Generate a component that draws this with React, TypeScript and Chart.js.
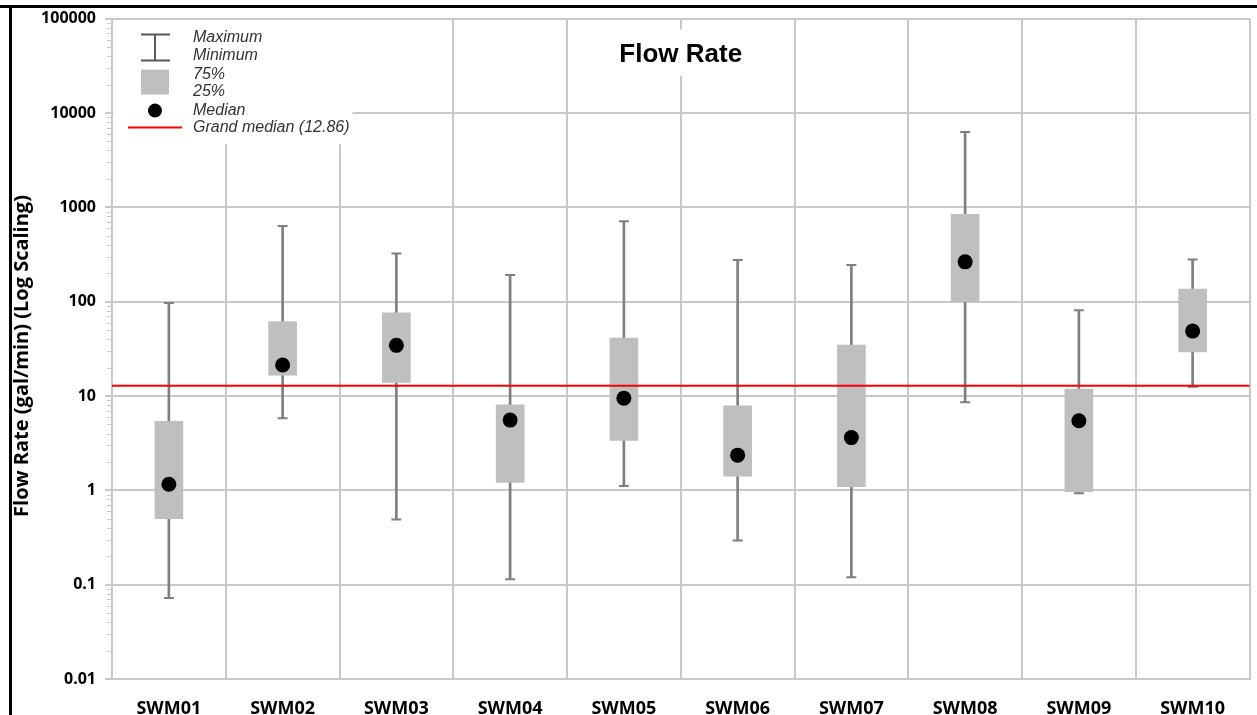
import React, { useEffect, useRef } from 'react';
import { Chart, registerables } from 'chart.js';

Chart.register(...registerables);

const CATEGORIES = ['SWM01', 'SWM02', 'SWM03', 'SWM04', 'SWM05', 'SWM06', 'SWM07', 'SWM08', 'SWM09', 'SWM10'];
const MAXIMUM = [97, 634, 324, 191, 710, 277, 244, 6270, 81, 280];
const Q3 = [5.4, 61.5, 76, 8.07, 41.1, 7.88, 34.7, 841, 11.8, 136];
const MEDIAN = [1.16, 21.3, 34.4, 5.55, 9.48, 2.36, 3.62, 264, 5.47, 48.7];
const Q1 = [0.5, 16.6, 13.9, 1.21, 3.37, 1.41, 1.09, 100, 0.967, 29.3];
const MINIMUM = [0.072, 5.8, 0.49, 0.114, 1.11, 0.294, 0.12, 8.6, 0.93, 12.5];
const GRAND_MEDIAN = 12.86;
const Y_TICKS = [0.01, 0.1, 1, 10, 100, 1000, 10000, 100000];
const Y_TICK_LABELS = ['0.01', '0.1', '1', '10', '100', '1000', '10000', '100000'];
const MINOR_MULTIPLIERS = [2, 3, 4, 5, 6, 7, 8, 9];
const TITLE = 'Flow Rate';
const Y_TITLE = 'Flow Rate (gal/min) (Log Scaling)';
const LEGEND_LABELS = ['Maximum', 'Minimum', '75%', '25%', 'Median', `Grand median (${GRAND_MEDIAN})`];

const GRID = '#c8c8c8';
const WHISKER = '#7f7f7f';
const BOX = '#bfbfbf';
const LABEL_FONT = '"Open Sans", "DejaVu Sans", sans-serif';

const overlayPlugin = {
  id: 'overlay',
  beforeDatasetsDraw(chart: any) {
    const { ctx, chartArea: a, scales } = chart;
    const y = scales.y;
    ctx.save();
    // minor ticks on the y axis
    ctx.strokeStyle = GRID;
    ctx.lineWidth = 1;
    for (let d = -2; d < 5; d++) {
      for (const m of MINOR_MULTIPLIERS) {
        const py = Math.round(y.getPixelForValue(m * Math.pow(10, d))) + 0.5;
        ctx.beginPath();
        ctx.moveTo(a.left - 5, py);
        ctx.lineTo(a.left, py);
        ctx.stroke();
      }
    }
    // white legend box
    ctx.fillStyle = '#fff';
    ctx.fillRect(a.left + 1.5, a.top + 1.5, 239, 124);
    // title box
    ctx.font = `bold 26px "Liberation Sans", Arial, sans-serif`;
    const cx = (a.left + a.right) / 2;
    const tw = ctx.measureText(TITLE).width;
    ctx.fillRect(cx - tw / 2 - 8, a.top + 11, tw + 16, 46);
    ctx.fillStyle = '#000';
    ctx.textAlign = 'center';
    ctx.textBaseline = 'middle';
    ctx.fillText(TITLE, cx, a.top + 36);

    // y-axis title
    ctx.save();
    ctx.translate(22, 356);
    ctx.rotate(-Math.PI / 2);
    ctx.font = `bold 20px ${LABEL_FONT}`;
    ctx.fillStyle = '#000';
    ctx.textAlign = 'center';
    ctx.textBaseline = 'middle';
    ctx.fillText(Y_TITLE, 0, 0);
    ctx.restore();

    // legend symbols
    const lx = a.left;
    const ly = a.top;
    ctx.strokeStyle = '#595959';
    ctx.lineWidth = 2;
    ctx.beginPath();
    ctx.moveTo(lx + 43, ly + 16);
    ctx.lineTo(lx + 43, ly + 42);
    ctx.moveTo(lx + 29, ly + 16);
    ctx.lineTo(lx + 58, ly + 16);
    ctx.moveTo(lx + 29, ly + 42);
    ctx.lineTo(lx + 58, ly + 42);
    ctx.stroke();
    ctx.fillStyle = BOX;
    ctx.fillRect(lx + 29, ly + 51, 28, 25);
    ctx.fillStyle = '#000';
    ctx.beginPath();
    ctx.arc(lx + 43, ly + 92, 7, 0, Math.PI * 2);
    ctx.fill();
    ctx.strokeStyle = '#ff0000';
    ctx.beginPath();
    ctx.moveTo(lx + 16, ly + 109);
    ctx.lineTo(lx + 70, ly + 109);
    ctx.stroke();
    ctx.fillStyle = '#333';
    ctx.textAlign = 'left';
    ctx.font = `italic 16px "Liberation Sans", Arial, sans-serif`;
    const rows = [19, 37, 56, 73, 92, 109];
    LEGEND_LABELS.forEach((t, i) => ctx.fillText(t, lx + 81, ly + rows[i]));
    ctx.restore();
  },
  afterDatasetsDraw(chart: any) {
    const { ctx, chartArea: a, scales } = chart;
    const py = scales.y.getPixelForValue(GRAND_MEDIAN);
    ctx.save();
    ctx.strokeStyle = '#ff0000';
    ctx.lineWidth = 2;
    ctx.beginPath();
    ctx.moveTo(a.left, py);
    ctx.lineTo(a.right, py);
    ctx.stroke();
    ctx.restore();
  },
};

export default function App() {
  const ref = useRef<HTMLCanvasElement>(null);
  useEffect(() => {
    document.body.style.margin = '0';
    const chart = new Chart(ref.current as HTMLCanvasElement, {
      type: 'bar',
      data: {
        labels: CATEGORIES,
        datasets: [
          {
            type: 'bar',
            label: 'Range',
            data: CATEGORIES.map((_, i) => [MINIMUM[i], MAXIMUM[i]]) as any,
            backgroundColor: WHISKER,
            barThickness: 2,
            grouped: false,
            order: 5,
          } as any,
          {
            type: 'line',
            label: 'Maximum',
            data: MAXIMUM,
            showLine: false,
            pointStyle: 'line',
            pointRadius: 5,
            borderColor: WHISKER,
            pointBorderColor: WHISKER,
            pointBorderWidth: 2,
            order: 4,
          } as any,
          {
            type: 'line',
            label: 'Minimum',
            data: MINIMUM,
            showLine: false,
            pointStyle: 'line',
            pointRadius: 5,
            borderColor: WHISKER,
            pointBorderColor: WHISKER,
            pointBorderWidth: 2,
            order: 4,
          } as any,
          {
            type: 'bar',
            label: 'IQR',
            data: CATEGORIES.map((_, i) => [Q1[i], Q3[i]]) as any,
            backgroundColor: BOX,
            barThickness: 28,
            grouped: false,
            order: 3,
          } as any,
          {
            type: 'line',
            label: 'Median',
            data: MEDIAN,
            showLine: false,
            pointStyle: 'circle',
            pointRadius: 7.5,
            backgroundColor: '#000',
            borderColor: '#000',
            pointBackgroundColor: '#000',
            pointBorderWidth: 0,
            order: 1,
          } as any,
        ],
      },
      options: {
        responsive: false,
        animation: false,
        devicePixelRatio: 1,
        layout: { padding: { top: 16, right: 3, left: 0, bottom: 0 } },
        plugins: { legend: { display: false }, tooltip: { enabled: false }, title: { display: false } },
        scales: {
          x: {
            offset: true,
            grid: { offset: true, color: GRID, lineWidth: 2, drawTicks: false },
            border: { color: GRID, width: 2 },
            ticks: { padding: 19, color: '#000', font: { family: LABEL_FONT, weight: 'bold', size: 18 } },
            afterFit: (s: any) => { s.height = 36; },
          },
          y: {
            type: 'logarithmic',
            min: 0.01,
            max: 100000,
            afterBuildTicks: (s: any) => { s.ticks = Y_TICKS.map((v) => ({ value: v, major: true })); },
            ticks: {
              padding: 9,
              color: '#000',
              font: { family: LABEL_FONT, weight: 'bold', size: 16 },
              callback: (v: any) => {
                const i = Y_TICKS.indexOf(Number(v));
                return i >= 0 ? Y_TICK_LABELS[i] : '';
              },
            },
            grid: { color: GRID, lineWidth: 2, tickLength: 7 },
            border: { color: GRID, width: 2 },
            afterFit: (s: any) => { s.width = 112; },
          } as any,
        },
      },
      plugins: [overlayPlugin],
    });
    return () => chart.destroy();
  }, []);

  return (
    <div style={{ position: 'relative', width: 1257, height: 715, background: '#fff', overflow: 'hidden' }}>
      <canvas ref={ref} width={1257} height={715} style={{ position: 'absolute', left: 0, top: 0, width: 1257, height: 715 }} />
      <div style={{ position: 'absolute', left: 0, top: 5, width: 1257, height: 3, background: '#000' }} />
      <div style={{ position: 'absolute', left: 9, top: 5, width: 3, height: 710, background: '#000' }} />
    </div>
  );
}
